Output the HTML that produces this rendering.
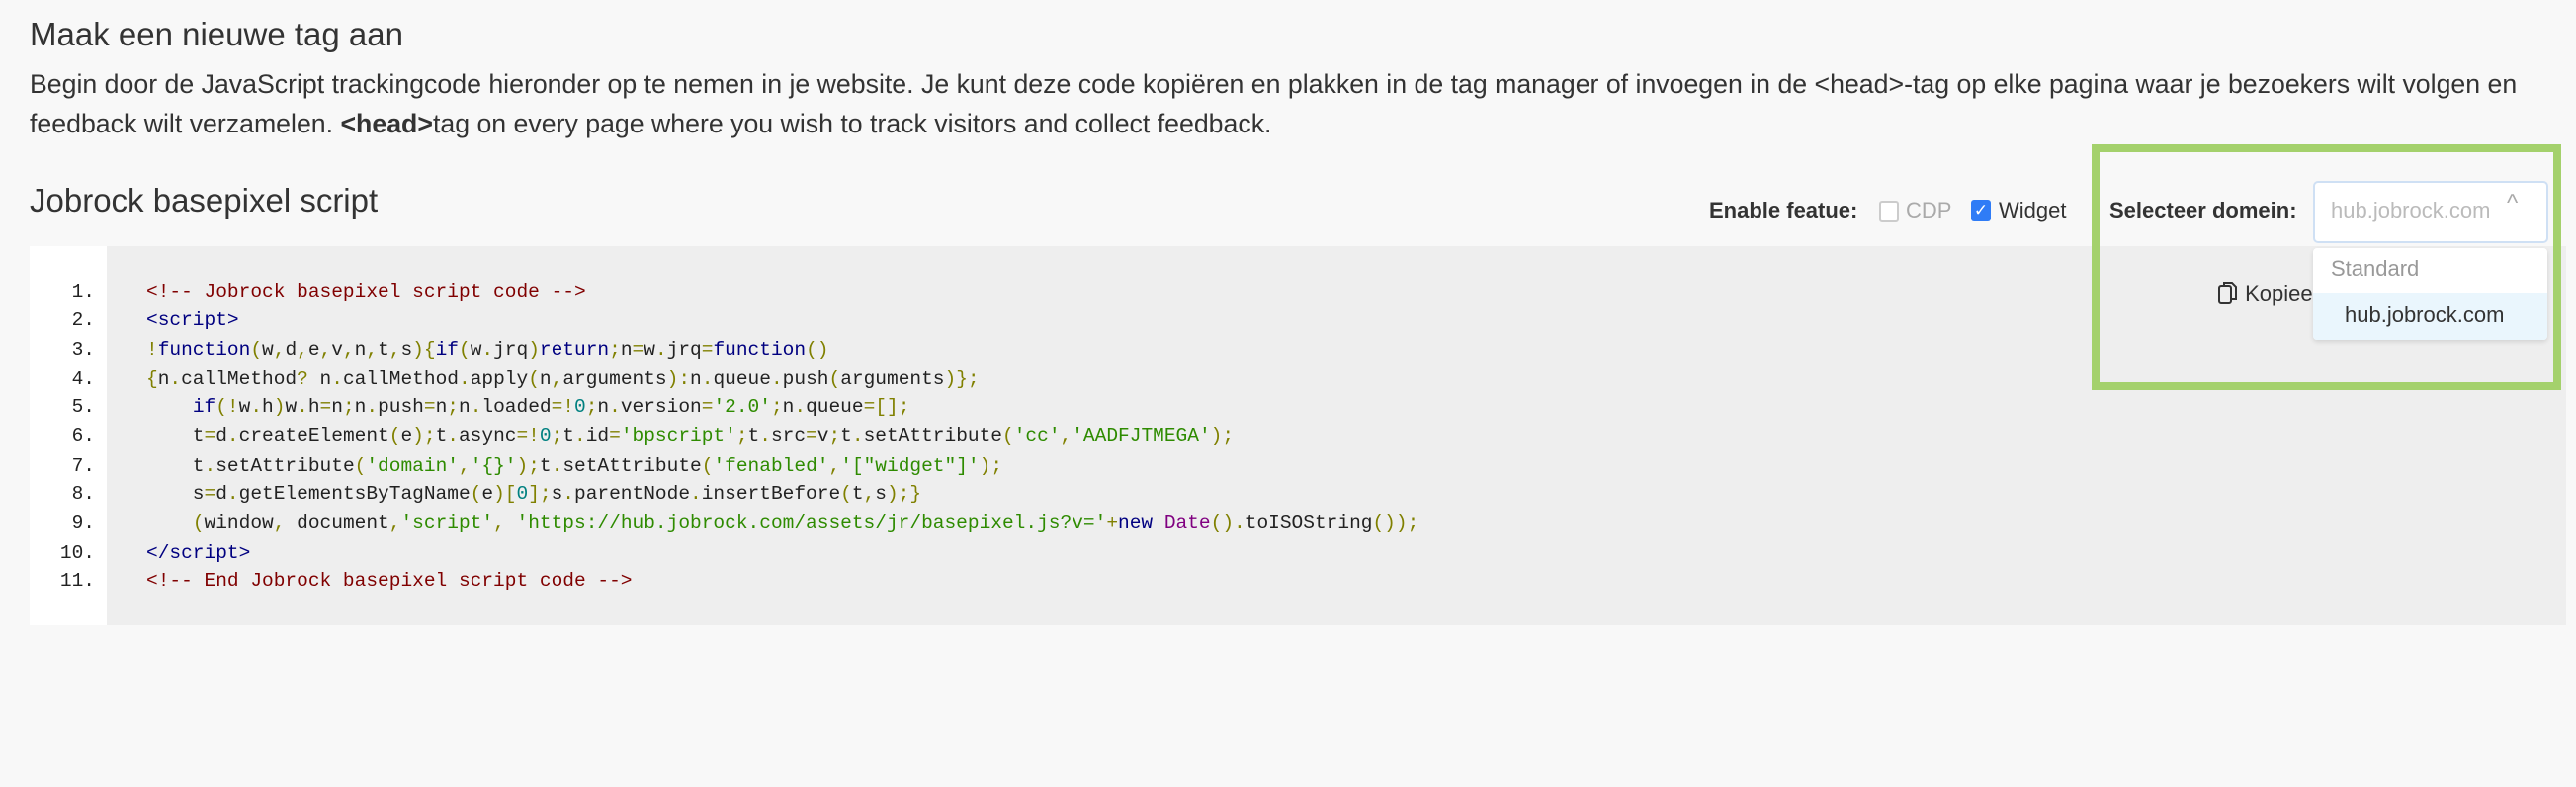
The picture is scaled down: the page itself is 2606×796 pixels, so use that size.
<!DOCTYPE html>
<html><head><meta charset="utf-8"><style>
body{margin:0;width:2606px;height:796px;background:#f8f8f8;font-family:"Liberation Sans",sans-serif;color:#333;position:relative;overflow:hidden}
.a{position:absolute;white-space:nowrap}
h1{position:absolute;left:30px;top:16px;margin:0;font-weight:normal;font-size:33px;color:#333}
.p{left:30px;font-size:26.7px;line-height:40px;color:#333}
.code{position:absolute;left:30px;top:249px;width:2566px;height:383px;background:#eee}
.gut{position:absolute;left:0;top:0;width:78px;height:383px;background:#fff}
pre{position:absolute;margin:0;font-family:"Liberation Mono",monospace;font-size:19.5px;line-height:29.3px;top:32px}
.ln{left:0;width:66px;text-align:right;color:#222}
.src{left:118px;color:#222}
.c{color:#800000}.t{color:#000080}.k{color:#000080}.s{color:#2e8b00}.o{color:#808000}.n{color:#008080}.d{color:#800080}
.b{font-weight:bold}
</style></head><body>
<h1>Maak een nieuwe tag aan</h1>
<div class="a p" style="top:65px">Begin door de JavaScript trackingcode hieronder op te nemen in je website. Je kunt deze code kopiëren en plakken in de tag manager of invoegen in de &lt;head&gt;-tag op elke pagina waar je bezoekers wilt volgen en</div>
<div class="a p" style="top:105px">feedback wilt verzamelen. <b>&lt;head&gt;</b>tag on every page where you wish to track visitors and collect feedback.</div>
<div class="a" style="left:30px;top:184px;font-size:33px">Jobrock basepixel script</div>

<div class="a b" style="left:1729px;top:200px;font-size:22px">Enable featue:</div>
<div class="a" style="left:1901px;top:203px;width:16px;height:18px;border:2px solid #ccc;border-radius:3px;background:#fff"></div>
<div class="a" style="left:1928px;top:200px;font-size:22px;color:#aaa">CDP</div>
<div class="a" style="left:1994px;top:202px;width:20px;height:22px;background:#2f7cf6;border-radius:3px;color:#fff;font-size:17px;text-align:center;line-height:22px">✓</div>
<div class="a" style="left:2022px;top:200px;font-size:22px;color:#333">Widget</div>

<div class="code"><div class="gut"></div>
<pre class="ln">1.
2.
3.
4.
5.
6.
7.
8.
9.
10.
11.</pre>
<pre class="src"><span class="c">&lt;!-- Jobrock basepixel script code --&gt;</span>
<span class="t">&lt;script&gt;</span>
<span class="o">!</span><span class="k">function</span><span class="o">(</span>w<span class="o">,</span>d<span class="o">,</span>e<span class="o">,</span>v<span class="o">,</span>n<span class="o">,</span>t<span class="o">,</span>s<span class="o">){</span><span class="k">if</span><span class="o">(</span>w<span class="o">.</span>jrq<span class="o">)</span><span class="k">return</span><span class="o">;</span>n<span class="o">=</span>w<span class="o">.</span>jrq<span class="o">=</span><span class="k">function</span><span class="o">()</span>
<span class="o">{</span>n<span class="o">.</span>callMethod<span class="o">?</span> n<span class="o">.</span>callMethod<span class="o">.</span>apply<span class="o">(</span>n<span class="o">,</span>arguments<span class="o">):</span>n<span class="o">.</span>queue<span class="o">.</span>push<span class="o">(</span>arguments<span class="o">)};</span>
    <span class="k">if</span><span class="o">(!</span>w<span class="o">.</span>h<span class="o">)</span>w<span class="o">.</span>h<span class="o">=</span>n<span class="o">;</span>n<span class="o">.</span>push<span class="o">=</span>n<span class="o">;</span>n<span class="o">.</span>loaded<span class="o">=!</span><span class="n">0</span><span class="o">;</span>n<span class="o">.</span>version<span class="o">=</span><span class="s">'2.0'</span><span class="o">;</span>n<span class="o">.</span>queue<span class="o">=[];</span>
    t<span class="o">=</span>d<span class="o">.</span>createElement<span class="o">(</span>e<span class="o">);</span>t<span class="o">.</span>async<span class="o">=!</span><span class="n">0</span><span class="o">;</span>t<span class="o">.</span>id<span class="o">=</span><span class="s">'bpscript'</span><span class="o">;</span>t<span class="o">.</span>src<span class="o">=</span>v<span class="o">;</span>t<span class="o">.</span>setAttribute<span class="o">(</span><span class="s">'cc'</span><span class="o">,</span><span class="s">'AADFJTMEGA'</span><span class="o">);</span>
    t<span class="o">.</span>setAttribute<span class="o">(</span><span class="s">'domain'</span><span class="o">,</span><span class="s">'{}'</span><span class="o">);</span>t<span class="o">.</span>setAttribute<span class="o">(</span><span class="s">'fenabled'</span><span class="o">,</span><span class="s">'["widget"]'</span><span class="o">);</span>
    s<span class="o">=</span>d<span class="o">.</span>getElementsByTagName<span class="o">(</span>e<span class="o">)[</span><span class="n">0</span><span class="o">];</span>s<span class="o">.</span>parentNode<span class="o">.</span>insertBefore<span class="o">(</span>t<span class="o">,</span>s<span class="o">);}</span>
    <span class="o">(</span>window<span class="o">,</span> document<span class="o">,</span><span class="s">'script'</span><span class="o">,</span> <span class="s">'https://hub.jobrock.com/assets/jr/basepixel.js?v='</span><span class="o">+</span><span class="k">new</span> <span class="d">Date</span><span class="o">().</span>toISOString<span class="o">());</span>
<span class="t">&lt;/script&gt;</span>
<span class="c">&lt;!-- End Jobrock basepixel script code --&gt;</span></pre>
</div>

<div class="a" style="left:2243px;top:283px;font-size:22px;color:#333"><svg width="22" height="26" viewBox="0 0 22 26" style="vertical-align:-5px"><rect x="2" y="6" width="12" height="17" rx="2" fill="none" stroke="#333" stroke-width="2"/><path d="M7 6V3h8l4 4v12h-5" fill="none" stroke="#333" stroke-width="2"/></svg> Kopieer</div>

<div class="a" style="left:2116px;top:146px;width:459px;height:232px;border:8px solid #a4d16c"></div>
<div class="a b" style="left:2134px;top:200px;font-size:22px">Selecteer domein:</div>
<div class="a" style="left:2340px;top:183px;width:234px;height:59px;border:2px solid #cfe0f4;border-radius:5px;background:#fff"></div>
<div class="a" style="left:2358px;top:200px;font-size:22px;color:#bbb">hub.jobrock.com</div>
<div class="a" style="left:2536px;top:192px;font-size:24px;color:#aaa">^</div>
<div class="a" style="left:2340px;top:251px;width:237px;height:93px;background:#fff;border-radius:4px;box-shadow:0 2px 5px rgba(0,0,0,.12);overflow:hidden">
<div style="position:absolute;left:18px;top:8px;font-size:22px;color:#999">Standard</div>
<div style="position:absolute;left:0;top:45px;width:237px;height:48px;background:#eaf6fd"></div>
<div style="position:absolute;left:32px;top:55px;font-size:22px;color:#333">hub.jobrock.com</div>
</div>
</body></html>
